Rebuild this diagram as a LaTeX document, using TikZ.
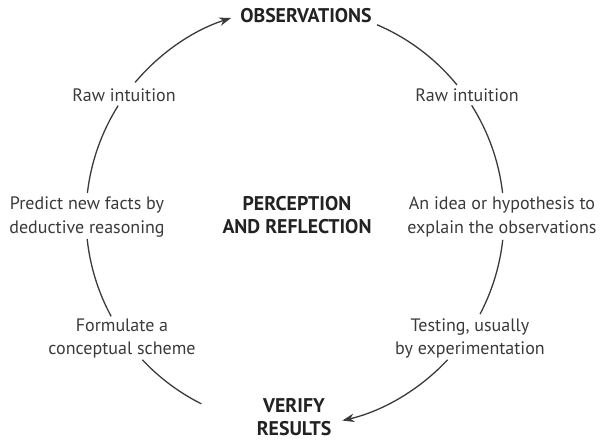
\documentclass[tikz,border=0pt]{standalone}
\usepackage{fontspec}
\setmainfont{PT Sans}
\usetikzlibrary{arrows.meta}
\definecolor{ink}{HTML}{3A3A3A}
\definecolor{headink}{HTML}{222222}
\begin{document}
\begin{tikzpicture}[x=1pt,y=1pt,
    lbl/.style={align=center,inner sep=0pt,text=ink,font=\fontsize{18}{23.5}\selectfont},
    head/.style={align=center,inner sep=0pt,text=headink,font=\fontsize{19.8}{22.5}\selectfont\bfseries},
    cycle/.style={draw=ink,line width=1.3pt},
    tip/.style={-{Stealth[length=12pt,width=8.5pt]}}]
  \useasboundingbox (0,0) rectangle (605,441);
  \coordinate (c) at (295,224);
  \def\r{209pt}
  %
  \node[head] (obs) at (306,425) {OBSERVATIONS};
  \node[head] (verify) at (294,24) {VERIFY\\RESULTS};
  \node[head] (centre) at (297,226) {PERCEPTION\\AND REFLECTION};
  %
  \node[lbl] (rawL) at (124,346) {Raw intuition};
  \node[lbl] (rawR) at (467,346) {Raw intuition};
  \node[lbl] (predict) at (87,224) {Predict new facts by\\deductive reasoning};
  \node[lbl] (idea) at (502,224) {An idea or hypothesis to\\explain the observations};
  \node[lbl] (formulate) at (122,102.5) {Formulate a\\conceptual scheme};
  \node[lbl] (testing) at (470,102.5) {Testing, usually\\by experimentation};
  %
  \draw[cycle] ([shift={(66.9:\r)}]c) arc[start angle=66.9, end angle=39.2, radius=\r];
  \draw[cycle] ([shift={(32.3:\r)}]c) arc[start angle=32.3, end angle=6.6, radius=\r];
  \draw[cycle] ([shift={(-6.3:\r)}]c) arc[start angle=-6.3, end angle=-27.7, radius=\r];
  \draw[cycle,tip] ([shift={(-43.1:\r)}]c) arc[start angle=-43.1, end angle=-76.9, radius=\r];
  %
  \draw[cycle] ([shift={(243.4:\r)}]c) arc[start angle=243.4, end angle=223.1, radius=\r];
  \draw[cycle] ([shift={(208.4:\r)}]c) arc[start angle=208.4, end angle=186, radius=\r];
  \draw[cycle] ([shift={(173.4:\r)}]c) arc[start angle=173.4, end angle=147.8, radius=\r];
  \draw[cycle,tip] ([shift={(139.9:\r)}]c) arc[start angle=139.9, end angle=107.8, radius=\r];
  %
\end{tikzpicture}
\end{document}
